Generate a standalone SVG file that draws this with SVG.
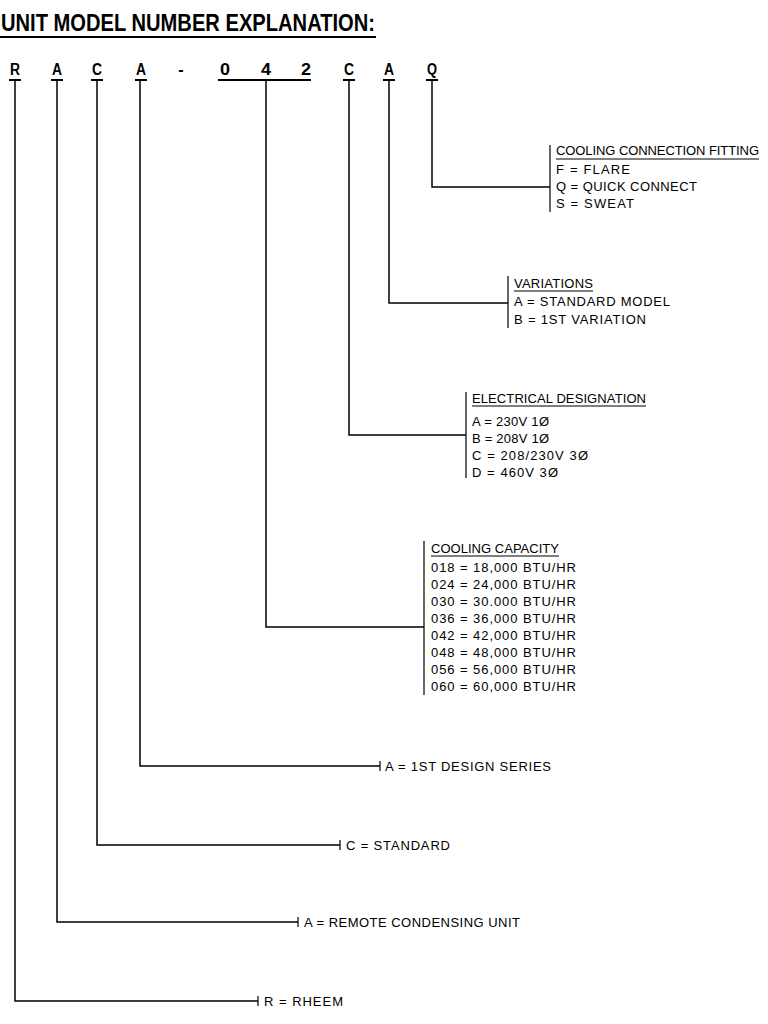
<svg xmlns="http://www.w3.org/2000/svg" width="768" height="1024" viewBox="0 0 768 1024">
<style>
.t{font-family:"Liberation Sans",Arial,sans-serif;font-size:13px;fill:#000}
.c{font-family:"Liberation Sans",Arial,sans-serif;font-size:16px;font-weight:bold;fill:#000;text-anchor:middle}
.ln{stroke:#000;stroke-width:1.5;fill:none}
.h{stroke:#000;stroke-width:2;fill:none}
.u{stroke:#000;stroke-width:1.2;fill:none}
</style>
<rect width="768" height="1024" fill="#fff"/>
<g id="title">
<text x="1" y="31" font-family="Liberation Sans, Arial, sans-serif" font-size="24" font-weight="bold" textLength="374" lengthAdjust="spacingAndGlyphs">UNIT MODEL NUMBER EXPLANATION:</text>
<line class="h" x1="0" y1="37" x2="376" y2="37"/>
</g>
<g id="code">
<text class="c" x="15" y="75" textLength="10" lengthAdjust="spacingAndGlyphs">R</text>
<text class="c" x="57" y="75" textLength="10" lengthAdjust="spacingAndGlyphs">A</text>
<text class="c" x="97" y="75" textLength="10" lengthAdjust="spacingAndGlyphs">C</text>
<text class="c" x="141" y="75" textLength="10" lengthAdjust="spacingAndGlyphs">A</text>
<text class="c" x="181" y="75">-</text>
<text class="c" x="225" y="75" textLength="10" lengthAdjust="spacingAndGlyphs">0</text>
<text class="c" x="266" y="75" textLength="10" lengthAdjust="spacingAndGlyphs">4</text>
<text class="c" x="306" y="75" textLength="10" lengthAdjust="spacingAndGlyphs">2</text>
<text class="c" x="349" y="75" textLength="10" lengthAdjust="spacingAndGlyphs">C</text>
<text class="c" x="389" y="75" textLength="10" lengthAdjust="spacingAndGlyphs">A</text>
<text class="c" x="432" y="75" textLength="10" lengthAdjust="spacingAndGlyphs">Q</text>
<g class="h">
<line x1="9" y1="80" x2="21" y2="80"/>
<line x1="51" y1="80" x2="63" y2="80"/>
<line x1="91" y1="80" x2="103" y2="80"/>
<line x1="135" y1="80" x2="147" y2="80"/>
<line x1="218" y1="80" x2="311" y2="80"/>
<line x1="343" y1="80" x2="355" y2="80"/>
<line x1="383" y1="80" x2="395" y2="80"/>
<line x1="426" y1="80" x2="438" y2="80"/>
</g>
</g>
<g id="connectors">
<path class="ln" d="M432 80V187H550"/>
<path class="ln" d="M389 80V303H508"/>
<path class="ln" d="M349 80V435H466"/>
<path class="ln" d="M266 80V627H424"/>
<path class="ln" d="M140 80V766H380"/>
<path class="ln" d="M97 80V845H340"/>
<path class="ln" d="M57 80V922H298"/>
<path class="ln" d="M15 80V1001H258"/>
</g>
<g id="fitting">
<line class="u" x1="550" y1="145" x2="550" y2="212"/>
<text class="t" x="556" y="155" textLength="203">COOLING CONNECTION FITTING</text>
<line class="u" x1="556" y1="159" x2="759" y2="159"/>
<text class="t" x="556" y="174" textLength="74">F = FLARE</text>
<text class="t" x="556" y="191" textLength="141">Q = QUICK CONNECT</text>
<text class="t" x="556" y="208" textLength="78">S = SWEAT</text>
</g>
<g id="variations">
<line class="u" x1="508" y1="276" x2="508" y2="328"/>
<text class="t" x="514" y="288" textLength="79">VARIATIONS</text>
<line class="u" x1="514" y1="291" x2="593" y2="291"/>
<text class="t" x="514" y="306" textLength="156">A = STANDARD MODEL</text>
<text class="t" x="514" y="324" textLength="132">B = 1ST VARIATION</text>
</g>
<g id="electrical">
<line class="u" x1="466" y1="392" x2="466" y2="478"/>
<text class="t" x="472" y="403" textLength="174">ELECTRICAL DESIGNATION</text>
<line class="u" x1="472" y1="406" x2="646" y2="406"/>
<text class="t" x="472" y="426" textLength="77">A = 230V 1Ø</text>
<text class="t" x="472" y="443" textLength="77">B = 208V 1Ø</text>
<text class="t" x="472" y="460" textLength="116">C = 208/230V 3Ø</text>
<text class="t" x="472" y="477" textLength="86">D = 460V 3Ø</text>
</g>
<g id="capacity">
<line class="u" x1="424" y1="541" x2="424" y2="695"/>
<text class="t" x="431" y="553" textLength="128">COOLING CAPACITY</text>
<line class="u" x1="431" y1="556" x2="559" y2="556"/>
<text class="t" x="431" y="572" textLength="145">018 = 18,000 BTU/HR</text>
<text class="t" x="431" y="589" textLength="145">024 = 24,000 BTU/HR</text>
<text class="t" x="431" y="606" textLength="145">030 = 30.000 BTU/HR</text>
<text class="t" x="431" y="623" textLength="145">036 = 36,000 BTU/HR</text>
<text class="t" x="431" y="640" textLength="145">042 = 42,000 BTU/HR</text>
<text class="t" x="431" y="657" textLength="145">048 = 48,000 BTU/HR</text>
<text class="t" x="431" y="674" textLength="145">056 = 56,000 BTU/HR</text>
<text class="t" x="431" y="691" textLength="145">060 = 60,000 BTU/HR</text>
</g>
<g id="series">
<line class="u" x1="380" y1="761" x2="380" y2="771"/>
<text class="t" x="385" y="771" textLength="166">A = 1ST DESIGN SERIES</text>
</g>
<g id="standard">
<line class="u" x1="340" y1="840" x2="340" y2="850"/>
<text class="t" x="346" y="850" textLength="104">C = STANDARD</text>
</g>
<g id="remote">
<line class="u" x1="298" y1="917" x2="298" y2="927"/>
<text class="t" x="304" y="927" textLength="216">A = REMOTE CONDENSING UNIT</text>
</g>
<g id="rheem">
<line class="u" x1="258" y1="996" x2="258" y2="1006"/>
<text class="t" x="264" y="1006" textLength="79">R = RHEEM</text>
</g>
</svg>
